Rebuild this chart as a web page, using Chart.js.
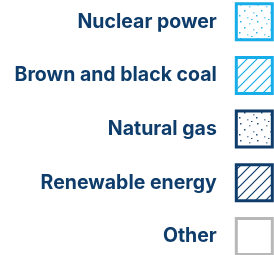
<!DOCTYPE html>
<html>
<head>
<meta charset="utf-8">
<script src="https://cdn.jsdelivr.net/npm/chart.js@4"></script>
<style>
  html, body { margin: 0; padding: 0; background: #ffffff; overflow: hidden; }
  #wrap { position: absolute; left: 0; top: -14px; width: 290px; height: 330px; }
</style>
</head>
<body>
<div id="wrap"><canvas id="legendChart"></canvas></div>
<script>
// --- Legend data ---
const sources = ["Nuclear power", "Brown and black coal", "Natural gas", "Renewable energy", "Other"];
const sourceValues = [[], [], [], [], []];
const sourceColors = ["#17ade8", "#17ade8", "#0e3c6b", "#0e3c6b", "#b8b8b8"];
const sourcePatterns = ["dots", "hatch", "dots", "hatch", "none"];

// --- Pattern fills ---
function makePattern(kind, color) {
    if (kind === "none") return "#ffffff";
    const tile = document.createElement("canvas");
    const c = tile.getContext("2d");
    if (kind === "hatch") {
        tile.width = 10;
        tile.height = 10;
        c.strokeStyle = color;
        c.lineWidth = 1.2;
        c.beginPath();
        c.moveTo(-1, 11); c.lineTo(11, -1);
        c.moveTo(-6, 6); c.lineTo(6, -6);
        c.moveTo(4, 16); c.lineTo(16, 4);
        c.stroke();
    } else {
        tile.width = 17;
        tile.height = 17;
        c.fillStyle = color;
        [[2, 1], [11, 3], [6, 7], [15, 9], [1, 12], [9, 14], [13, 16]].forEach(([x, y], i) => {
            c.globalAlpha = i % 2 ? 0.55 : 0.9;
            c.fillRect(x, y, 1.5, 1.5);
        });
    }
    return c.createPattern(tile, "repeat");
}

const ctx = document.getElementById("legendChart").getContext("2d");
const datasets = sources.map((s, i) => ({
    label: s + "\u2002",
    data: sourceValues[i],
    backgroundColor: makePattern(sourcePatterns[i], sourceColors[i]),
    borderColor: sourceColors[i],
    borderWidth: 3
}));

new Chart(ctx, {
    type: "bar",
    data: { labels: [""], datasets },
    options: {
        responsive: true,
        maintainAspectRatio: false,
        animation: false,
        layout: { padding: 0 },
        scales: { x: { display: false }, y: { display: false } },
        plugins: {
            tooltip: { enabled: false },
            legend: {
                position: "top",
                align: "start",
                rtl: true,
                textDirection: "ltr",
                maxHeight: 300,
                onClick: null,
                labels: {
                    boxWidth: 36,
                    boxHeight: 36,
                    padding: 17.7,
                    color: "#0e3c6b",
                    font: { family: "Inter", weight: "700", size: 19.5 }
                }
            }
        }
    }
});
</script>
</body>
</html>
